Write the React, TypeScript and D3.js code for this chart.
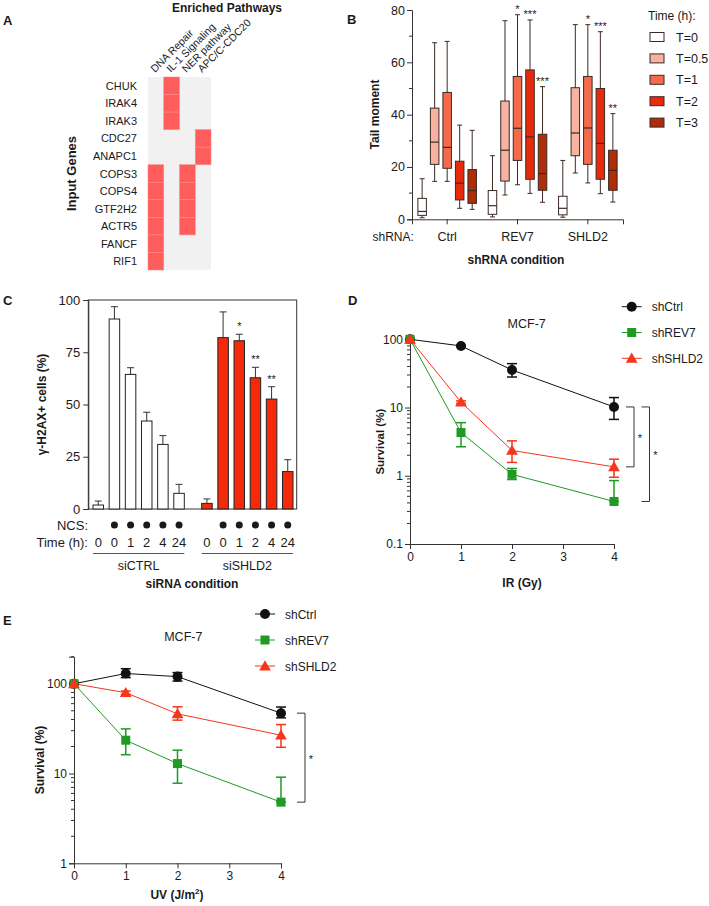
import React, { useEffect, useRef } from 'react';
import * as d3 from 'd3';

const FONT = 'Liberation Sans, Arial, sans-serif';

// panel A
const genes = ['CHUK', 'IRAK4', 'IRAK3', 'CDC27', 'ANAPC1', 'COPS3', 'COPS4', 'GTF2H2', 'ACTR5', 'FANCF', 'RIF1'];
const pathways = ['DNA Repair', 'IL-1 Signaling', 'NER pathway', 'APC/C-CDC20'];
const geneHits = [
  [0, 1, 0, 0], [0, 1, 0, 0], [0, 1, 0, 0],
  [0, 0, 0, 1], [0, 0, 0, 1],
  [1, 0, 1, 0], [1, 0, 1, 0], [1, 0, 1, 0], [1, 0, 1, 0],
  [1, 0, 0, 0], [1, 0, 0, 0],
];

// panel B: [min, q1, median, q3, max]
const timePoints = ['T=0', 'T=0.5', 'T=1', 'T=2', 'T=3'];
const shGroups = ['Ctrl', 'REV7', 'SHLD2'];
const tailCtrl = [[0.6, 1.5, 3, 8, 15.5], [14.5, 21, 29.5, 42.5, 67.5], [14.5, 19.5, 27.5, 48.5, 68], [4.2, 7.4, 13.8, 22.2, 36], [3.8, 6.1, 11, 19, 34]];
const tailREV7 = [[0.9, 1.9, 5.2, 11, 24.3], [9.3, 14.6, 26.4, 45.2, 75.9], [13.2, 22.5, 34.8, 54.6, 78.2], [9.9, 15.3, 31.5, 57.1, 76.2], [6.5, 11.1, 17.5, 32.5, 50.7]];
const tailSHLD2 = [[0.8, 1.7, 4.2, 8.8, 22.5], [17.7, 24.3, 33, 50.3, 74.4], [13.9, 21, 34.9, 54.6, 74.4], [9.8, 15.3, 29, 50, 71.7], [6.6, 11.1, 18.7, 26.4, 40.4]];
const tailStars = [['', '', '', '', ''], ['', '', '*', '***', '***'], ['', '', '*', '***', '**']];
const timeColors = ['#ffffff', '#f7b2a2', '#f66a4c', '#e82a0c', '#ad2e08'];

// panel C
const siGroups = ['siCTRL', 'siSHLD2'];
const ncsTimes = ['0', '0', '1', '2', '4', '24'];
const ncsTreated = [false, true, true, true, true, true];
const h2axCtrl = [1.9, 90.9, 64.4, 42.1, 30.9, 7.5];
const h2axCtrlErr = [1.9, 5.9, 3.2, 4.2, 4.2, 4.3];
const h2axShld2 = [2.7, 82, 80.5, 62.8, 52.6, 17.9];
const h2axShld2Err = [2.1, 12.3, 3.1, 5.0, 5.9, 5.7];
const h2axStars = ['', '', '*', '**', '**', ''];

// panel D / E
const doses = [0, 1, 2, 4];
const lineNames = ['shCtrl', 'shREV7', 'shSHLD2'];
const lineColors = ['#111111', '#1f9a24', '#f5361c'];
const irCtrl = [100, 80, 35.5, 10.2];
const irCtrlHi = [100, 82, 44, 14];
const irCtrlLo = [100, 78, 28, 6.7];
const irRev7 = [100, 4.3, 1.05, 0.42];
const irRev7Hi = [100, 6.0, 1.28, 0.85];
const irRev7Lo = [100, 2.66, 0.88, 0.42];
const irShld2 = [100, 12, 2.35, 1.35];
const irShld2Hi = [100, 12.5, 3.25, 1.75];
const irShld2Lo = [100, 11.5, 1.57, 0.95];
const uvCtrl = [100, 130, 120, 47];
const uvCtrlHi = [100, 147, 133, 55];
const uvCtrlLo = [100, 117, 107, 41.7];
const uvRev7 = [100, 23.5, 12.9, 4.8];
const uvRev7Hi = [100, 31.4, 18.2, 9.1];
const uvRev7Lo = [100, 16.2, 7.8, 4.8];
const uvShld2 = [100, 79.4, 46.2, 26.7];
const uvShld2Hi = [100, 83, 55.3, 35.1];
const uvShld2Lo = [100, 76, 39.3, 19.6];

function txt(g: any, x: number, y: number, s: string, size: number, opts: any = {}) {
  const t = g.append('text')
    .attr('x', x).attr('y', y)
    .attr('font-family', FONT)
    .attr('font-size', size)
    .attr('fill', opts.fill || '#1a1a1a')
    .attr('text-anchor', opts.anchor || 'start')
    .text(s);
  if (opts.bold) t.attr('font-weight', 'bold');
  if (opts.rotate != null) t.attr('transform', `rotate(${opts.rotate},${x},${y})`);
  return t;
}

function styleAxis(g: any, size: number) {
  g.selectAll('path').attr('stroke', '#333');
  g.selectAll('line').attr('stroke', '#333');
  g.selectAll('text').attr('font-family', FONT).attr('font-size', size).attr('fill', '#1a1a1a');
}

function marker(g: any, shape: number, x: number, y: number, color: string) {
  if (shape === 0) g.append('circle').attr('cx', x).attr('cy', y).attr('r', 5).attr('fill', color);
  else if (shape === 1) g.append('rect').attr('x', x - 4.5).attr('y', y - 4.5).attr('width', 9).attr('height', 9).attr('fill', color);
  else g.append('path').attr('d', d3.symbol(d3.symbolTriangle, 60)()).attr('transform', `translate(${x},${y + 1})`).attr('fill', color);
}

function survivalPanel(svg: any, o: any) {
  const x = d3.scaleLinear().domain([0, 4]).range([o.x0, o.x1]);
  const y = d3.scaleLog().domain(o.yDomain).range([o.yBottom, o.yTop]);
  const g = svg.append('g');

  // minor log ticks
  const minors: number[] = [];
  for (let dec = o.yDomain[0]; dec < o.yDomain[1]; dec *= 10) {
    for (let k = 2; k <= 9; k++) if (dec * k <= o.yDomain[1] * 1.0001) minors.push(dec * k);
  }
  g.selectAll('.minor').data(minors).enter().append('line')
    .attr('x1', o.x0 - 3).attr('x2', o.x0)
    .attr('y1', (d: number) => y(d)).attr('y2', (d: number) => y(d))
    .attr('stroke', '#333');

  const yAxis = g.append('g').attr('transform', `translate(${o.x0},0)`)
    .call(d3.axisLeft(y).tickValues(o.yTicks).tickFormat((d: any) => String(d)).tickSizeOuter(0).tickSize(5).tickPadding(2));
  styleAxis(yAxis, 12);
  const xAxis = g.append('g').attr('transform', `translate(0,${o.yBottom})`)
    .call(d3.axisBottom(x).tickValues([0, 1, 2, 3, 4]).tickFormat(d3.format('d')).tickSizeOuter(0).tickSize(5).tickPadding(3));
  styleAxis(xAxis, 12);

  const series = [
    [o.ctrl, o.ctrlHi, o.ctrlLo],
    [o.rev7, o.rev7Hi, o.rev7Lo],
    [o.shld2, o.shld2Hi, o.shld2Lo],
  ];
  const line = d3.line<number>().x((d, i) => x(doses[i])).y(d => y(d));
  series.forEach((s, si) => {
    g.append('path').attr('d', line(s[0])).attr('fill', 'none').attr('stroke', lineColors[si]).attr('stroke-width', 1);
  });
  series.forEach((s, si) => {
    doses.forEach((dv, i) => {
      if (i === 0) return;
      const cx = x(dv);
      const hi = y(s[1][i]);
      const lo = y(s[2][i]);
      const c = lineColors[si];
      g.append('line').attr('x1', cx).attr('x2', cx).attr('y1', hi).attr('y2', lo).attr('stroke', c).attr('stroke-width', 1.5);
      g.append('line').attr('x1', cx - 5).attr('x2', cx + 5).attr('y1', hi).attr('y2', hi).attr('stroke', c).attr('stroke-width', 1.5);
      g.append('line').attr('x1', cx - 5).attr('x2', cx + 5).attr('y1', lo).attr('y2', lo).attr('stroke', c).attr('stroke-width', 1.5);
    });
    s[0].forEach((v: number, i: number) => marker(g, si, x(doses[i]), y(v), lineColors[si]));
  });

  // significance brackets
  o.brackets.forEach((b: any) => {
    const yA = y(b.from);
    const yB = y(b.to);
    g.append('path').attr('d', `M${b.x - 8},${yA}H${b.x}V${yB}H${b.x - 8}`).attr('fill', 'none').attr('stroke', '#333');
    txt(g, b.x + 6, (yA + yB) / 2 + 5, '*', 11, { anchor: 'middle' });
  });

  txt(g, (o.x0 + o.x1) / 2 + o.titleDx, o.titleY, 'MCF-7', 12.5, { anchor: 'middle' });
  txt(g, o.ylabX, (o.yTop + o.yBottom) / 2, 'Survival (%)', o.ylabSize, { anchor: 'middle', bold: true, rotate: -90 });

  // legend
  lineNames.forEach((n, i) => {
    const ly = o.legY + i * o.legStep;
    g.append('line').attr('x1', o.legX).attr('x2', o.legX + 20).attr('y1', ly).attr('y2', ly).attr('stroke', lineColors[i]);
    marker(g, i, o.legX + 10, ly, lineColors[i]);
    txt(g, o.legX + 30, ly + 4.5, n, 12);
  });
}

export default function App() {
  const ref = useRef<SVGSVGElement>(null);

  useEffect(() => {
    const svg = d3.select(ref.current);
    svg.selectAll('*').remove();

    // ---------- Panel A ----------
    const gA = svg.append('g');
    txt(gA, 3, 25, 'A', 13, { bold: true });
    txt(gA, 227, 12, 'Enriched Pathways', 12, { bold: true, anchor: 'middle' });
    const hx = d3.scaleBand().domain(pathways).range([148, 211]);
    const hy = d3.scaleBand().domain(genes).range([77, 270]);
    gA.append('rect').attr('x', 148).attr('y', 77).attr('width', 63).attr('height', 193).attr('fill', '#f1f1f1');
    genes.forEach((gn, r) => {
      pathways.forEach((p, c) => {
        if (!geneHits[r][c]) return;
        gA.append('rect').attr('x', hx(p)!).attr('y', hy(gn)!)
          .attr('width', hx.bandwidth()).attr('height', hy.bandwidth())
          .attr('fill', '#ff5c5c').attr('stroke', '#ff8a8a').attr('stroke-width', 0.6);
      });
      txt(gA, 137, hy(gn)! + hy.bandwidth() / 2 + 4, gn, 11, { anchor: 'end' });
    });
    pathways.forEach((p) => {
      txt(gA, hx(p)! + hx.bandwidth() / 2 - 1, 73, p, 10.5, { rotate: -45 });
    });
    txt(gA, 76, 173.5, 'Input Genes', 13, { bold: true, anchor: 'middle', rotate: -90 });

    // ---------- Panel B ----------
    const gB = svg.append('g');
    txt(gB, 347, 24, 'B', 13, { bold: true });
    const by = d3.scaleLinear().domain([0, 80]).range([219.3, 10]);
    const bx = d3.scaleBand().domain(shGroups).range([412, 623]);
    const bxi = d3.scaleBand().domain(timePoints).range([0, bx.bandwidth()]).paddingInner(0.32).paddingOuter(0.47);
    gB.selectAll('.minor').data([10, 30, 50, 70]).enter().append('line')
      .attr('x1', 409).attr('x2', 412).attr('y1', (d: number) => by(d)).attr('y2', (d: number) => by(d)).attr('stroke', '#333');
    const byAxis = gB.append('g').attr('transform', 'translate(412,0)')
      .call(d3.axisLeft(by).tickValues([0, 20, 40, 60, 80]).tickSizeOuter(0).tickSize(5).tickPadding(2));
    styleAxis(byAxis, 12.5);
    const bxAxis = gB.append('g').attr('transform', 'translate(0,219.3)')
      .call(d3.axisBottom(bx).tickSizeOuter(0).tickSize(5).tickPadding(8));
    styleAxis(bxAxis, 12.5);
    txt(gB, 372.5, 241, 'shRNA:', 12);
    const tailData = [tailCtrl, tailREV7, tailSHLD2];
    shGroups.forEach((grp, gi) => {
      timePoints.forEach((tp, ti) => {
        const [mn, q1, md, q3, mx] = tailData[gi][ti];
        const x0 = bx(grp)! + bxi(tp)!;
        const w = bxi.bandwidth();
        const cx = x0 + w / 2;
        const stroke = '#3b2a24';
        gB.append('line').attr('x1', cx).attr('x2', cx).attr('y1', by(mx)).attr('y2', by(mn)).attr('stroke', stroke);
        gB.append('line').attr('x1', cx - 2.5).attr('x2', cx + 2.5).attr('y1', by(mx)).attr('y2', by(mx)).attr('stroke', stroke);
        gB.append('line').attr('x1', cx - 2.5).attr('x2', cx + 2.5).attr('y1', by(mn)).attr('y2', by(mn)).attr('stroke', stroke);
        gB.append('rect').attr('x', x0).attr('y', by(q3)).attr('width', w).attr('height', by(q1) - by(q3))
          .attr('fill', timeColors[ti]).attr('stroke', stroke);
        gB.append('line').attr('x1', x0).attr('x2', x0 + w).attr('y1', by(md)).attr('y2', by(md)).attr('stroke', stroke).attr('stroke-width', 1.2);
        const st = tailStars[gi][ti];
        if (st) txt(gB, cx, by(mx) - 2, st, 11, { anchor: 'middle' });
      });
    });
    txt(gB, 379, 114.5, 'Tail moment', 12, { bold: true, anchor: 'middle', rotate: -90 });
    txt(gB, 516, 264, 'shRNA condition', 12, { bold: true, anchor: 'middle' });
    txt(gB, 648, 20, 'Time (h):', 12);
    timePoints.forEach((tp, ti) => {
      const ly = 37 + ti * 21.4;
      gB.append('rect').attr('x', 650).attr('y', ly - 4.5).attr('width', 14).attr('height', 9)
        .attr('fill', timeColors[ti]).attr('stroke', '#3b2a24');
      txt(gB, 676, ly + 4.5, tp, 12.5);
    });

    // ---------- Panel C ----------
    const gC = svg.append('g');
    txt(gC, 3, 305, 'C', 13, { bold: true });
    const cy = d3.scaleLinear().domain([0, 100]).range([509, 300]);
    const cgx = d3.scaleBand().domain(siGroups).range([93, 293]).paddingInner(0.16);
    const cix = d3.scaleBand().domain(d3.range(6).map(String)).range([0, cgx.bandwidth()]).paddingInner(0.35);
    gC.append('rect').attr('x', 88.3).attr('y', 300).attr('width', 208.4).attr('height', 209).attr('fill', 'none').attr('stroke', '#333');
    const cyAxis = gC.append('g').attr('transform', 'translate(88.3,0)')
      .call(d3.axisLeft(cy).tickValues([0, 25, 50, 75, 100]).tickSizeOuter(0).tickSize(5).tickPadding(3));
    styleAxis(cyAxis, 13);
    const cVals = [[h2axCtrl, h2axCtrlErr], [h2axShld2, h2axShld2Err]];
    siGroups.forEach((grp, gi) => {
      const [vals, errs] = cVals[gi];
      vals.forEach((v, i) => {
        const x0 = cgx(grp)! + cix(String(i))!;
        const w = cix.bandwidth();
        const cx = x0 + w / 2;
        const top = cy(v + errs[i]);
        gC.append('line').attr('x1', cx).attr('x2', cx).attr('y1', cy(v)).attr('y2', top).attr('stroke', '#333');
        gC.append('line').attr('x1', cx - 3.5).attr('x2', cx + 3.5).attr('y1', top).attr('y2', top).attr('stroke', '#333');
        gC.append('rect').attr('x', x0).attr('y', cy(v)).attr('width', w).attr('height', cy(0) - cy(v))
          .attr('fill', gi === 0 ? '#ffffff' : '#f52a0a').attr('stroke', '#222');
        if (gi === 1 && h2axStars[i]) txt(gC, cx, top - 4, h2axStars[i], 11, { anchor: 'middle' });
        if (ncsTreated[i]) gC.append('circle').attr('cx', cx).attr('cy', 525).attr('r', 3.5).attr('fill', '#1a1a1a');
        txt(gC, cx, 547, ncsTimes[i], 13, { anchor: 'middle' });
      });
      const gx0 = cgx(grp)!;
      gC.append('line').attr('x1', gx0).attr('x2', gx0 + cgx.bandwidth()).attr('y1', 553.5).attr('y2', 553.5).attr('stroke', '#555');
      txt(gC, gx0 + cgx.bandwidth() / 2, 570, grp, 12.5, { anchor: 'middle' });
    });
    txt(gC, 88, 530, 'NCS:', 13, { anchor: 'end' });
    txt(gC, 88, 547, 'Time (h):', 13, { anchor: 'end' });
    txt(gC, 192, 587.5, 'siRNA condition', 12, { bold: true, anchor: 'middle' });
    txt(gC, 46, 404.5, '\u03b3-H2AX+ cells (%)', 12, { bold: true, anchor: 'middle', rotate: -90 });

    // ---------- Panel D ----------
    txt(svg, 348, 305, 'D', 13, { bold: true });
    survivalPanel(svg, {
      x0: 410, x1: 614, yTop: 339.3, yBottom: 544, yDomain: [0.1, 100], yTicks: [0.1, 1, 10, 100],
      ctrl: irCtrl, ctrlHi: irCtrlHi, ctrlLo: irCtrlLo,
      rev7: irRev7, rev7Hi: irRev7Hi, rev7Lo: irRev7Lo,
      shld2: irShld2, shld2Hi: irShld2Hi, shld2Lo: irShld2Lo,
      brackets: [{ x: 634, from: irCtrl[3], to: irShld2[3] }, { x: 649.5, from: irCtrl[3], to: irRev7[3] }],
      titleDx: 14.7, titleY: 327.5, ylabX: 384, ylabSize: 11.5,
      legX: 621.7, legY: 306.7, legStep: 25.8,
    });
    txt(svg, 522, 587, 'IR (Gy)', 12, { bold: true, anchor: 'middle' });

    // ---------- Panel E ----------
    txt(svg, 3, 625, 'E', 13, { bold: true });
    survivalPanel(svg, {
      x0: 74, x1: 281, yTop: 656.7, yBottom: 863.3, yDomain: [1, 200], yTicks: [1, 10, 100],
      ctrl: uvCtrl, ctrlHi: uvCtrlHi, ctrlLo: uvCtrlLo,
      rev7: uvRev7, rev7Hi: uvRev7Hi, rev7Lo: uvRev7Lo,
      shld2: uvShld2, shld2Hi: uvShld2Hi, shld2Lo: uvShld2Lo,
      brackets: [{ x: 305, from: uvCtrl[3], to: uvRev7[3] }],
      titleDx: 5.8, titleY: 641, ylabX: 44, ylabSize: 12,
      legX: 255, legY: 614, legStep: 26,
    });
    const uvLab = txt(svg, 177, 899, 'UV (J/m', 12, { bold: true, anchor: 'middle' });
    uvLab.append('tspan').attr('dy', -5).attr('font-size', 8).text('2');
    uvLab.append('tspan').attr('dy', 5).text(')');
  }, []);

  return (
    <svg ref={ref} width={709} height={906} style={{ position: 'absolute', left: 0, top: 0, background: '#fff' }} />
  );
}
